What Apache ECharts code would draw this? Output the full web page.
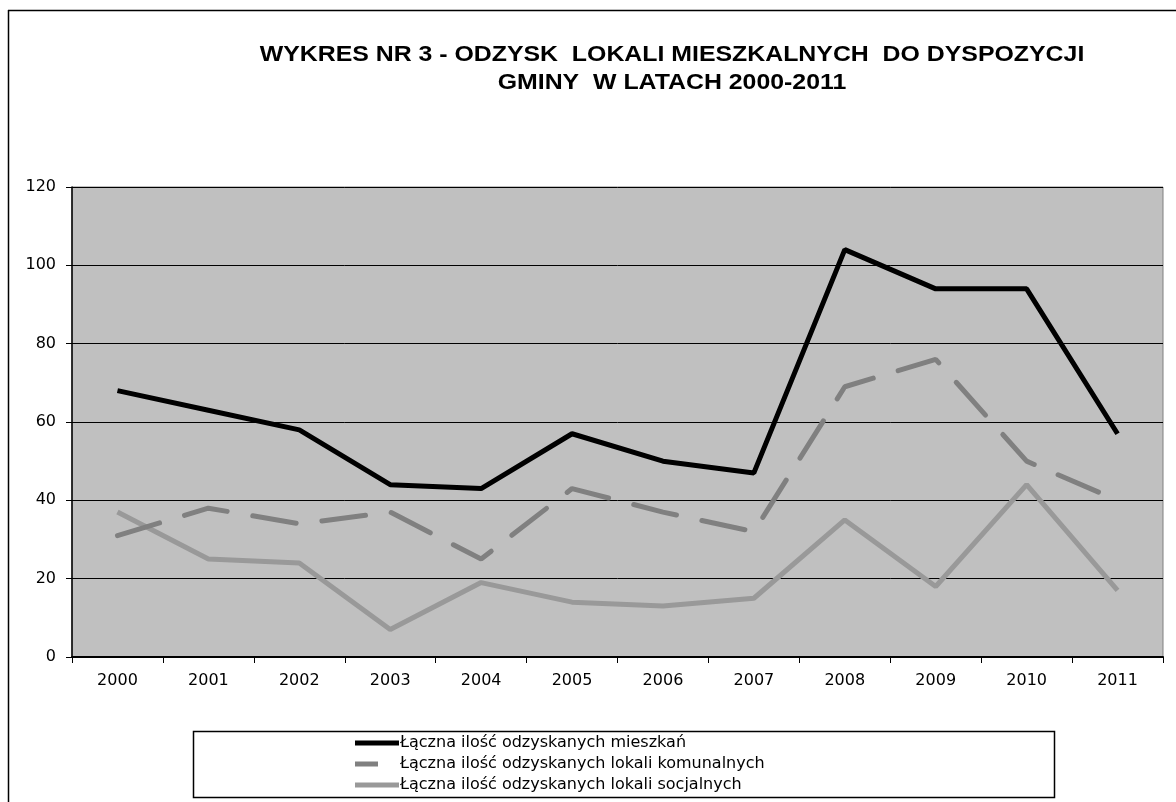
<!DOCTYPE html>
<html>
<head>
<meta charset="utf-8">
<script src="https://cdn.jsdelivr.net/npm/echarts@6/dist/echarts.min.js"></script>
<style>html,body{margin:0;padding:0;background:#fff;}#c{width:1176px;height:802px;}</style>
</head>
<body>
<div id="c"></div>
<script>
var years = ['2000','2001','2002','2003','2004','2005','2006','2007','2008','2009','2010','2011'];
var mieszkan = [68, 63, 58, 44, 43, 57, 50, 47, 104, 94, 94, 57];
var komunalne = [31, 38, 34, 37, 25, 43, 37, 32, 69, 76, 50, 40];
var socjalne = [37, 25, 24, 7, 19, 14, 13, 15, 35, 18, 44, 17];
var names = ['Łączna ilość odzyskanych mieszkań', 'Łączna ilość odzyskanych lokali komunalnych', 'Łączna ilość odzyskanych lokali socjalnych'];
var titleLines = ['WYKRES NR 3 - ODZYSK  LOKALI MIESZKALNYCH  DO DYSPOZYCJI', 'GMINY  W LATACH 2000-2011'];
var yTicks = [0, 20, 40, 60, 80, 100, 120];

var chart = echarts.init(document.getElementById('c'));
var FD = '"DejaVu Sans", sans-serif';
var solidIcon = 'path://M0,0H44V5H0Z';
var dashIcon = 'path://M0,0H23V5H0Z M43.9,0H44V0.1H43.9Z';
chart.setOption({
  animation: false,
  backgroundColor: '#ffffff',
  graphic: [
    { type: 'line', shape: { x1: 8.5, y1: 10, x2: 8.5, y2: 802 }, style: { stroke: '#000', lineWidth: 1.5 } },
    { type: 'line', shape: { x1: 8, y1: 10.5, x2: 1176, y2: 10.5 }, style: { stroke: '#000', lineWidth: 1.5 } },
    { type: 'rect', shape: { x: 193.5, y: 731.5, width: 861, height: 66 }, style: { fill: '#fff', stroke: '#000', lineWidth: 1.5 }, z: -1 },
    { type: 'text', x: 672, y: 55, scaleX: 1.13, style: { text: titleLines[0], font: 'bold 22px "Liberation Sans", Arial, sans-serif', fill: '#000', align: 'center', verticalAlign: 'middle' } },
    { type: 'text', x: 672, y: 83, scaleX: 1.13, style: { text: titleLines[1], font: 'bold 22px "Liberation Sans", Arial, sans-serif', fill: '#000', align: 'center', verticalAlign: 'middle' } }
  ],
  legend: {
    orient: 'vertical', left: 355, top: 734, padding: 0,
    itemWidth: 44, itemHeight: 5, itemGap: 3,
    textStyle: { fontFamily: FD, fontSize: 16, color: '#000', padding: [0, 0, 0, -4], lineHeight: 18 },
    data: [
      { name: names[0], icon: solidIcon },
      { name: names[1], icon: dashIcon },
      { name: names[2], icon: solidIcon }
    ]
  },
  grid: { left: 72, right: 13, top: 187, bottom: 145, show: true, backgroundColor: '#c0c0c0', borderColor: '#808080', borderWidth: 1 },
  xAxis: {
    type: 'category', data: years, boundaryGap: true,
    axisLine: { lineStyle: { color: '#000', width: 2 } },
    axisTick: { show: true, alignWithLabel: false, length: 6, lineStyle: { color: '#000' } },
    axisLabel: { fontFamily: FD, fontSize: 16, color: '#000', margin: 16 }
  },
  yAxis: {
    type: 'value', min: yTicks[0], max: yTicks[yTicks.length - 1], interval: 20,
    axisLine: { show: true, lineStyle: { color: '#000', width: 1.5 } },
    axisTick: { show: true, length: 6, lineStyle: { color: '#000' } },
    axisLabel: { fontFamily: FD, fontSize: 16, color: '#000', margin: 16 },
    splitLine: { show: true, lineStyle: { color: '#000', width: 1 } }
  },
  series: [
    { name: names[0], type: 'line', data: mieszkan, symbol: 'none', z: 4,
      lineStyle: { color: '#000000', width: 5 }, itemStyle: { color: '#000000' } },
    { name: names[1], type: 'line', data: komunalne, symbol: 'none', z: 3,
      lineStyle: { color: '#808080', width: 5, type: [44, 26], cap: 'round' }, itemStyle: { color: '#808080' } },
    { name: names[2], type: 'line', data: socjalne, symbol: 'none', z: 2,
      lineStyle: { color: '#999999', width: 5 }, itemStyle: { color: '#999999' } }
  ]
});
</script>
</body>
</html>
